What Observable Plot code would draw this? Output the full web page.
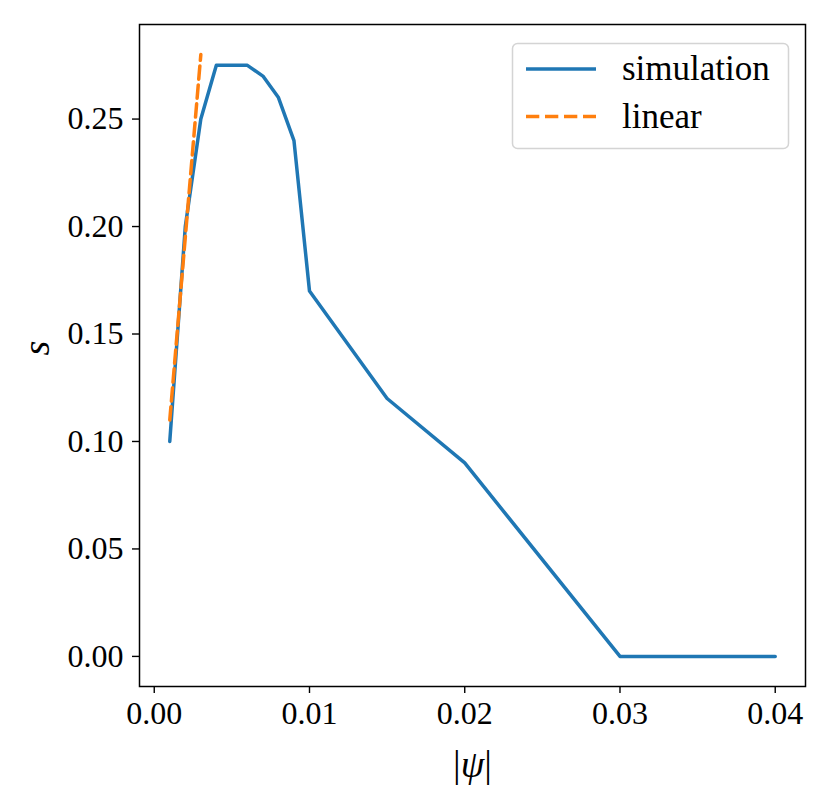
<!DOCTYPE html>
<html>
<head>
<meta charset="utf-8">
<script src="https://cdn.jsdelivr.net/npm/d3@7"></script>
<script src="https://cdn.jsdelivr.net/npm/@observablehq/plot@0.6"></script>
<style>
  html, body { margin: 0; padding: 0; background: white; }
  #chart { width: 831px; height: 802px; position: relative; }
</style>
</head>
<body>
<div id="chart"></div>
<script>
// Simulation data
const psi = [0.001, 0.002, 0.003, 0.004, 0.005, 0.006, 0.007, 0.008, 0.009, 0.010, 0.015, 0.020, 0.030, 0.040];
const sSim = [0.10, 0.20, 0.25, 0.275, 0.275, 0.275, 0.27, 0.26, 0.24, 0.17, 0.12, 0.09, 0.0, 0.0];
// Linear approximation
const psiLin = [0.001, 0.003];
const sLin = [0.11, 0.28];
// Ticks
const xTicks = [0.00, 0.01, 0.02, 0.03, 0.04];
const yTicks = [0.00, 0.05, 0.10, 0.15, 0.20, 0.25];
const seriesNames = ["simulation", "linear"];
const seriesColors = ["#1f77b4", "#ff7f0e"];

const sim = psi.map((x, i) => ({x, y: sSim[i]}));
const lin = psiLin.map((x, i) => ({x, y: sLin[i]}));

const fmt = d3.format(".2f");
const dash = "13.3,5.7";

const plot = Plot.plot({
  width: 831,
  height: 802,
  marginLeft: 139,
  marginRight: 26,
  marginTop: 24,
  marginBottom: 116,
  x: {domain: [-0.00095, 0.04195]},
  y: {domain: [-0.014, 0.294]},
  style: {fontFamily: "'Liberation Serif', serif", fontSize: "32px", color: "black", background: "white", overflow: "visible"},
  marks: [
    Plot.axisX({ticks: xTicks, tickFormat: fmt, tickSize: 7, tickPadding: 8, strokeWidth: 1.4, label: null}),
    Plot.axisY({ticks: yTicks, tickFormat: fmt, tickSize: 7, tickPadding: 9, strokeWidth: 1.4, label: null}),
    Plot.line(sim, {x: "x", y: "y", stroke: seriesColors[0], strokeWidth: 3.5}),
    Plot.line(lin, {x: "x", y: "y", stroke: seriesColors[1], strokeWidth: 3.5, strokeDasharray: dash}),
    Plot.frame({stroke: "black", strokeWidth: 1.5}),
    Plot.text(["|ψ|"], {frameAnchor: "bottom", dy: 90, fontSize: 38, className: "xlab"}),
    Plot.text(["s"], {frameAnchor: "left", dx: -103, rotate: -90, fontSize: 38, fontStyle: "italic"})
  ]
});

document.getElementById("chart").appendChild(plot);

// Style the x label: italic psi, upright bars
const svg = d3.select(plot);
svg.selectAll("g.xlab text").each(function() {
  const t = d3.select(this);
  t.text(null);
  t.append("tspan").text("|");
  t.append("tspan").attr("font-style", "italic").text("ψ");
  t.append("tspan").text("|");
});

// Legend
const lg = svg.append("g").attr("text-anchor", "start");
lg.append("rect")
  .attr("x", 512.5).attr("y", 43.5).attr("width", 276).attr("height", 105)
  .attr("rx", 5).attr("fill", "white").attr("fill-opacity", 0.8)
  .attr("stroke", "#d4d4d4").attr("stroke-width", 1.5);
seriesNames.forEach((name, i) => {
  const yy = 69 + i * 47.5;
  lg.append("line")
    .attr("x1", 526).attr("x2", 596).attr("y1", yy).attr("y2", yy)
    .attr("stroke", seriesColors[i]).attr("stroke-width", 3.5)
    .attr("stroke-dasharray", i === 1 ? dash : null);
  lg.append("text")
    .attr("x", 622).attr("y", yy + 11)
    .attr("text-anchor", "start")
    .attr("font-size", 35)
    .attr("fill", "black")
    .text(name);
});
</script>
</body>
</html>
